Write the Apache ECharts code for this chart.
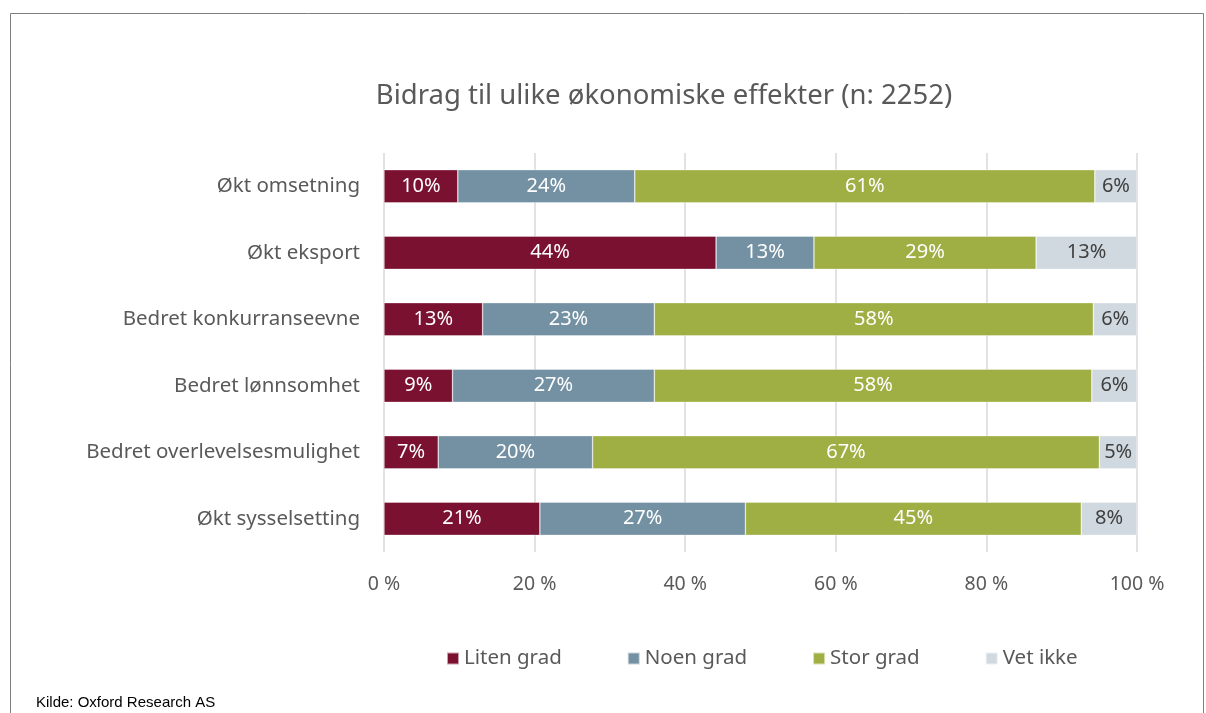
<!DOCTYPE html>
<html>
<head>
<meta charset="utf-8">
<script src="https://cdn.jsdelivr.net/npm/echarts@6/dist/echarts.min.js"></script>
<style>
  html, body { margin: 0; padding: 0; background: #fff; }
  #chart { width: 1206px; height: 713px; }
</style>
</head>
<body>
<div id="chart"></div>
<script>
// kategorier, øverst først
var categories = [
  "Økt omsetning",
  "Økt eksport",
  "Bedret konkurranseevne",
  "Bedret lønnsomhet",
  "Bedret overlevelsesmulighet",
  "Økt sysselsetting"
];
var seriesNames = ["Liten grad", "Noen grad", "Stor grad", "Vet ikke"];

// andeler (prosent) lest av stolpelengdene
var litenGrad = [9.8, 44.1, 13.1, 9.1, 7.2, 20.7];
var noenGrad = [23.5, 13.0, 22.8, 26.8, 20.5, 27.3];
var storGrad = [61.1, 29.5, 58.3, 58.1, 67.3, 44.6];
var vetIkke = [5.6, 13.4, 5.8, 6.0, 5.0, 7.4];

// dataetiketter slik de står i figuren
var litenLabels = [10, 44, 13, 9, 7, 21];
var noenLabels = [24, 13, 23, 27, 20, 27];
var storLabels = [61, 29, 58, 58, 67, 45];
var vetLabels = [6, 13, 6, 6, 5, 8];

var xTicks = [0, 20, 40, 60, 80, 100];

var colors = ["#7b1131", "#7391a3", "#9faf43", "#d0d9e0"];
var font = "'Noto Sans', 'Open Sans', sans-serif";

function makeSeries(idx, values, labels, labelColor) {
  return {
    name: seriesNames[idx],
    type: "bar",
    stack: "total",
    barWidth: "50%",
    data: values,
    itemStyle: {
      color: colors[idx],
      borderColor: "rgba(255,255,255,0.6)",
      borderWidth: 0.6
    },
    label: {
      show: true,
      position: "inside",
      color: labelColor,
      fontFamily: font,
      fontSize: 20,
      formatter: function (p) {
        return labels[p.dataIndex] + "%";
      }
    }
  };
}

var myChart = echarts.init(document.getElementById("chart"));
myChart.setOption({
  backgroundColor: "#fff",
  animation: false,
  color: colors,
  title: {
    text: "Bidrag til ulike økonomiske effekter (n: 2252)",
    left: 659,
    textAlign: "center",
    top: 77,
    textStyle: {
      color: "#595959",
      fontFamily: font,
      fontSize: 27.5,
      fontWeight: "normal"
    }
  },
  grid: {
    left: 384,
    right: 69,
    top: 153,
    bottom: 161,
    containLabel: false
  },
  legend: {
    data: seriesNames,
    top: 643,
    left: 441,
    itemWidth: 12,
    itemHeight: 12,
    itemGap: 65,
    icon: "rect",
    textStyle: {
      color: "#595959",
      fontFamily: font,
      fontSize: 20.5
    }
  },
  xAxis: {
    type: "value",
    min: 0,
    max: 100,
    interval: 20,
    axisLine: { show: false },
    axisTick: { show: false },
    splitLine: {
      show: true,
      lineStyle: { color: "#d9d9d9", width: 1.5 }
    },
    axisLabel: {
      margin: 22,
      color: "#595959",
      fontFamily: font,
      fontSize: 19.5,
      formatter: function (v) {
        return xTicks.indexOf(v) >= 0 ? v + " %" : "";
      }
    }
  },
  yAxis: {
    type: "category",
    inverse: true,
    data: categories,
    axisLine: { show: false },
    axisTick: { show: false },
    axisLabel: {
      margin: 24,
      color: "#595959",
      fontFamily: font,
      fontSize: 20.5
    }
  },
  series: [
    makeSeries(0, litenGrad, litenLabels, "#fff"),
    makeSeries(1, noenGrad, noenLabels, "#fff"),
    makeSeries(2, storGrad, storLabels, "#fff"),
    makeSeries(3, vetIkke, vetLabels, "#404040")
  ],
  graphic: [
    {
      type: "polyline",
      silent: true,
      shape: { points: [[10.5, 720], [10.5, 13.5], [1203.5, 13.5], [1203.5, 720]] },
      style: { stroke: "#7f7f7f", lineWidth: 1, fill: null }
    },
    {
      type: "text",
      left: 36,
      top: 695,
      style: {
        text: "Kilde: Oxford Research AS",
        fill: "#000",
        font: "15px 'Liberation Sans Narrow', 'Liberation Sans', Arial, sans-serif"
      }
    }
  ]
});
</script>
</body>
</html>
